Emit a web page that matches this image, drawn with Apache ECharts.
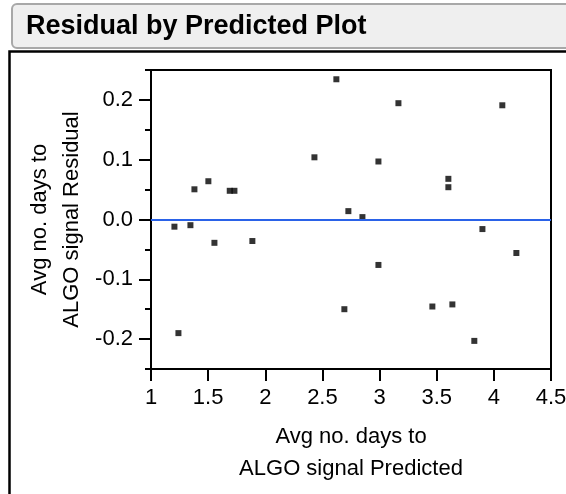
<!DOCTYPE html>
<html lang="en" style="height: 100%">
<head>
  <meta charset="utf-8">
</head>
<body style="height: 100%; margin: 0">
  <div id="container" style="height: 100%"></div>

  <script type="text/javascript" src="https://fastly.jsdelivr.net/npm/echarts@6/dist/echarts.min.js"></script>
  <script type="text/javascript">
    // predicted values (x) and residuals (y)
    var predicted = [1.205, 1.24, 1.345, 1.38, 1.502, 1.555, 1.689, 1.73, 1.887, 2.43,
                     2.622, 2.692, 2.727, 2.85, 2.99, 2.99, 3.165, 3.462, 3.602, 3.602,
                     3.637, 3.829, 3.9, 4.074, 4.197];
    var residual = [-0.012, -0.19, -0.0095, 0.0505, 0.064, -0.039, 0.048, 0.048, -0.036, 0.104,
                    0.2345, -0.15, 0.014, 0.004, 0.097, -0.076, 0.1945, -0.1455, 0.068, 0.054,
                    -0.142, -0.203, -0.016, 0.191, -0.056];
    var xTicks = [1, 1.5, 2, 2.5, 3, 3.5, 4, 4.5];
    var yMajor = [-0.2, -0.1, 0, 0.1, 0.2];
    var yMinor = [-0.25, -0.15, -0.05, 0.05, 0.15, 0.25];

    var dom = document.getElementById('container');
    var myChart = echarts.init(dom, null, { renderer: 'canvas' });
    var option;

    var font = 'Liberation Sans, Arial, sans-serif';
    var points = predicted.map(function (x, i) { return [x, residual[i]]; });

    option = {
      animation: false,
      graphic: [
        // title bar
        {
          type: 'rect',
          shape: { x: 12, y: 4, width: 600, height: 44, r: 5 },
          style: { fill: '#efefef', stroke: '#a8a8a8', lineWidth: 2 }
        },
        {
          type: 'text',
          left: 26, top: 13,
          style: { text: 'Residual by Predicted Plot', font: 'bold 27px ' + font, fill: '#000' }
        },
        // outline box of the report
        {
          type: 'polyline',
          shape: { points: [[9.5, 494], [9.5, 51.5], [566, 51.5]] },
          style: { stroke: '#000', lineWidth: 2.5, fill: null }
        }
      ],
      grid: {
        left: 151, right: 15, top: 70, bottom: 125,
        show: true, borderColor: '#000', borderWidth: 2,
        outerBoundsMode: 'none'
      },
      xAxis: {
        type: 'value',
        min: 1, max: 4.5, interval: 0.5,
        name: 'Avg no. days to\nALGO signal Predicted',
        nameLocation: 'middle',
        nameGap: 52,
        nameMoveOverlap: false,
        nameTextStyle: { fontFamily: font, fontSize: 22, color: '#000', lineHeight: 32 },
        axisLine: { onZero: false, lineStyle: { color: '#000', width: 2 } },
        axisTick: { length: 12, lineStyle: { color: '#000', width: 2 }, customValues: xTicks },
        axisLabel: { fontFamily: font, fontSize: 22, color: '#000', margin: 18, customValues: xTicks },
        splitLine: { show: false }
      },
      yAxis: [
        {
          type: 'value',
          min: -0.25, max: 0.25,
          name: 'Avg no. days to\nALGO signal Residual',
          nameLocation: 'middle',
          nameGap: 63,
          nameMoveOverlap: false,
          nameTextStyle: { fontFamily: font, fontSize: 22, color: '#000', lineHeight: 32 },
          axisLine: { onZero: false, lineStyle: { color: '#000', width: 2 } },
          axisTick: { length: 12, lineStyle: { color: '#000', width: 2 }, customValues: yMajor },
          axisLabel: {
            fontFamily: font, fontSize: 22, color: '#000', margin: 18,
            customValues: yMajor,
            formatter: function (v) { return v.toFixed(1); }
          },
          splitLine: { show: false }
        },
        {
          // minor ticks
          type: 'value',
          min: -0.25, max: 0.25,
          position: 'left',
          axisLine: { show: false, onZero: false },
          axisTick: { length: 6, lineStyle: { color: '#000', width: 2 }, customValues: yMinor },
          axisLabel: { show: false },
          splitLine: { show: false }
        }
      ],
      series: [
        {
          type: 'scatter',
          data: points,
          symbol: 'rect',
          symbolSize: 6,
          itemStyle: { color: '#000' },
          markLine: {
            silent: true,
            symbol: 'none',
            label: { show: false },
            lineStyle: { color: '#2a62e8', width: 2, type: 'solid' },
            data: [{ yAxis: 0 }]
          }
        }
      ]
    };

    myChart.setOption(option);
    window.addEventListener('resize', myChart.resize);
  </script>
</body>
</html>
